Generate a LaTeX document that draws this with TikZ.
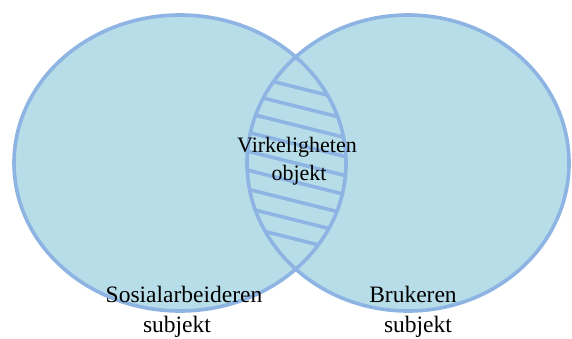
\documentclass[tikz,border=0pt]{standalone}
\usepackage{fontspec}
\setmainfont{Liberation Serif}
\definecolor{vfill}{HTML}{B7DDE8}
\definecolor{vline}{HTML}{8DB4E2}
\begin{document}
\begin{tikzpicture}[x=1pt,y=-1pt,
  setline/.style={draw=vline,line width=3.6pt},
  hatch/.style={draw=vline,line width=3.6pt},
  lbl/.style={inner sep=0pt,anchor=base,text=black}]
\useasboundingbox (0,0) rectangle (572,338);
% fills
\fill[vfill] (180,163) ellipse [x radius=166pt, y radius=148pt];
\fill[vfill] (408,163) ellipse [x radius=161pt, y radius=148pt];
% hatching in the overlap
\begin{scope}
  \clip (180,163) ellipse [x radius=166pt, y radius=148pt];
  \clip (408,163) ellipse [x radius=161pt, y radius=148pt];
  \foreach \k in {0,...,8} {
    \pgfmathsetmacro{\yc}{88+19*\k}
    \coordinate (h1) at (230,\yc-17.25);
    \coordinate (h2) at (370,\yc+17.75);
    \draw[hatch] (h1) -- (h2);
  }
\end{scope}
% outlines
\node[draw=none] (left) at (180,163) {};
\node[draw=none] (right) at (408,163) {};
\draw[setline] (left.center) ellipse [x radius=166pt, y radius=148pt];
\draw[setline] (right.center) ellipse [x radius=161pt, y radius=148pt];
% labels
\node[lbl,font=\fontsize{22}{26}\selectfont] (v1) at (297,152) {Virkeligheten};
\node[lbl,font=\fontsize{22}{26}\selectfont] (v2) at (299,180) {objekt};
\node[lbl,font=\fontsize{23.5}{28}\selectfont] (s1) at (184,302) {Sosialarbeideren};
\node[lbl,font=\fontsize{23.5}{28}\selectfont] (s2) at (177,332) {subjekt};
\node[lbl,font=\fontsize{23.5}{28}\selectfont] (b1) at (413,302) {Brukeren};
\node[lbl,font=\fontsize{23.5}{28}\selectfont] (b2) at (418,332) {subjekt};
\end{tikzpicture}
\end{document}
